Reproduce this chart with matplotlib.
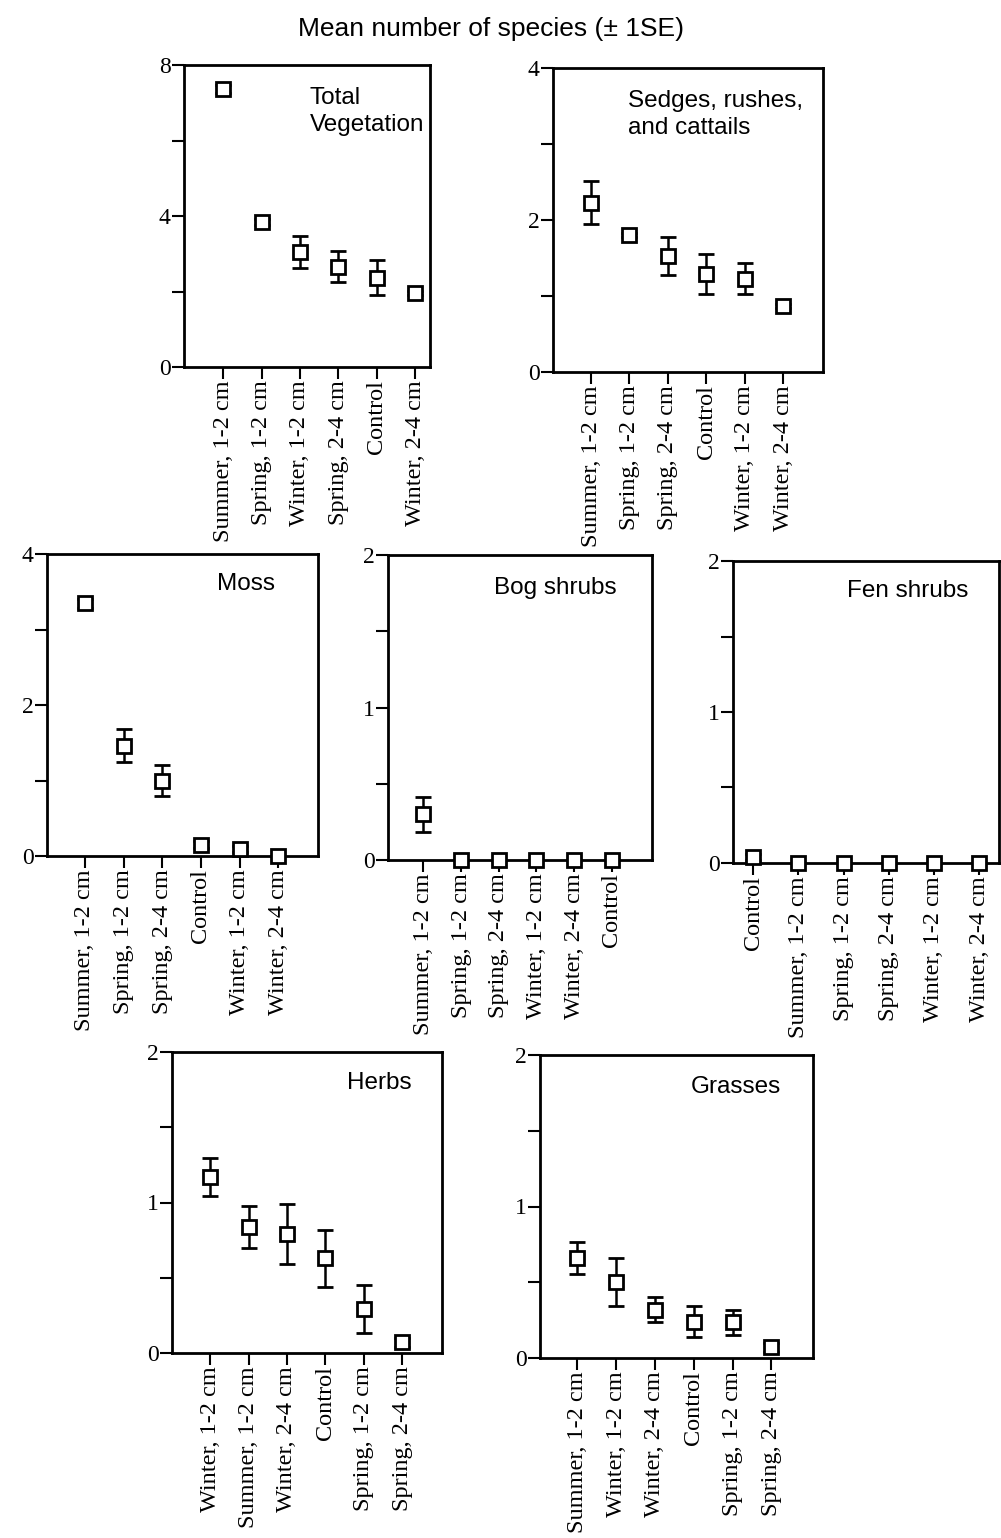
import matplotlib
matplotlib.use("Agg")
import matplotlib.pyplot as plt

W, H = 1001, 1538

# --- data ---
total_labels = ["Summer, 1-2 cm", "Spring, 1-2 cm", "Winter, 1-2 cm",
                "Spring, 2-4 cm", "Control", "Winter, 2-4 cm"]
total_mean = [7.36, 3.83, 3.05, 2.66, 2.37, 1.97]
total_se = [0.10, 0.08, 0.42, 0.40, 0.47, 0.05]

sedge_labels = ["Summer, 1-2 cm", "Spring, 1-2 cm", "Spring, 2-4 cm",
                "Control", "Winter, 1-2 cm", "Winter, 2-4 cm"]
sedge_mean = [2.23, 1.80, 1.52, 1.29, 1.23, 0.87]
sedge_se = [0.28, 0.03, 0.25, 0.26, 0.21, 0.03]

moss_labels = ["Summer, 1-2 cm", "Spring, 1-2 cm", "Spring, 2-4 cm",
               "Control", "Winter, 1-2 cm", "Winter, 2-4 cm"]
moss_mean = [3.35, 1.46, 1.00, 0.15, 0.09, 0.0]
moss_se = [0.06, 0.22, 0.20, 0.05, 0.04, 0.0]

bog_labels = ["Summer, 1-2 cm", "Spring, 1-2 cm", "Spring, 2-4 cm",
              "Winter, 1-2 cm", "Winter, 2-4 cm", "Control"]
bog_mean = [0.30, 0.0, 0.0, 0.0, 0.0, 0.0]
bog_se = [0.115, 0.0, 0.0, 0.0, 0.0, 0.0]

fen_labels = ["Control", "Summer, 1-2 cm", "Spring, 1-2 cm",
              "Spring, 2-4 cm", "Winter, 1-2 cm", "Winter, 2-4 cm"]
fen_mean = [0.04, 0.0, 0.0, 0.0, 0.0, 0.0]
fen_se = [0.02, 0.0, 0.0, 0.0, 0.0, 0.0]

herb_labels = ["Winter, 1-2 cm", "Summer, 1-2 cm", "Winter, 2-4 cm",
               "Control", "Spring, 1-2 cm", "Spring, 2-4 cm"]
herb_mean = [1.17, 0.84, 0.79, 0.63, 0.29, 0.07]
herb_se = [0.125, 0.14, 0.20, 0.19, 0.16, 0.03]

grass_labels = ["Summer, 1-2 cm", "Winter, 1-2 cm", "Winter, 2-4 cm",
                "Control", "Spring, 1-2 cm", "Spring, 2-4 cm"]
grass_mean = [0.66, 0.50, 0.32, 0.24, 0.235, 0.07]
grass_se = [0.105, 0.16, 0.085, 0.10, 0.08, 0.03]

SANS = "Liberation Sans"
SERIF = "Liberation Serif"


def fx(x):
    return x / W


def fy(y):
    return 1 - y / H


def draw_panel(fig, box, xlim, ymax, labels, mean, se, name, name_xy, va="center"):
    """box = (left, top, right, bottom) in pixels"""
    left, top, right, bottom = box
    ax = fig.add_axes([fx(left), fy(bottom), (right - left) / W, (bottom - top) / H])
    x = list(range(len(labels)))
    eb = ax.errorbar(x, mean, yerr=se, fmt="s", ms=10, mfc="white", mec="black",
                     mew=2, ecolor="black", elinewidth=1.8, capsize=6, capthick=1.8,
                     zorder=5)
    for art in [eb.lines[0]] + list(eb.lines[1]) + list(eb.lines[2]):
        art.set_clip_on(False)

    ax.set_xlim(*xlim)
    ax.set_ylim(0, ymax)
    ax.set_xticks(x)
    ax.set_xticklabels(labels, rotation=90, fontsize=17.5, family=SERIF, va="top", ha="center")
    ax.set_yticks([0, ymax / 2, ymax])
    ax.set_yticklabels(["0", f"{ymax / 2:g}", f"{ymax:g}"], fontsize=17, family=SERIF)
    ax.set_yticks([ymax / 4, 3 * ymax / 4], minor=True)
    ax.tick_params(axis="both", which="both", direction="out", length=8.5, width=1.5,
                   pad=1, color="black")
    for sp in ax.spines.values():
        sp.set_linewidth(2)

    fig.text(fx(name_xy[0]), fy(name_xy[1]), name, fontsize=17.5, family=SANS,
             ha="left", va=va, linespacing=1.3)
    return ax


fig = plt.figure(figsize=(W / 100, H / 100), dpi=100)

fig.text(fx(491), fy(29), "Mean number of species (\u00b1 1SE)", fontsize=19,
         family=SANS, ha="center", va="center")

draw_panel(fig, (184, 65, 430, 367), (-1.02, 5.39), 8, total_labels, total_mean,
           total_se, "Total\nVegetation", (310, 87), va="top")
draw_panel(fig, (553, 68, 823, 372), (-0.99, 6.04), 4, sedge_labels, sedge_mean,
           sedge_se, "Sedges, rushes,\nand cattails", (628, 90), va="top")
draw_panel(fig, (47, 554, 318, 856), (-0.98, 6.03), 4, moss_labels, moss_mean,
           moss_se, "Moss", (217, 584))
draw_panel(fig, (388, 555, 652, 860), (-0.94, 6.07), 2, bog_labels, bog_mean,
           bog_se, "Bog shrubs", (494, 588))
draw_panel(fig, (733, 561, 999, 863), (-0.45, 5.44), 2, fen_labels, fen_mean,
           fen_se, "Fen shrubs", (847, 591))
draw_panel(fig, (172, 1052, 442, 1353), (-0.99, 6.03), 2, herb_labels, herb_mean,
           herb_se, "Herbs", (347, 1083))
draw_panel(fig, (540, 1055, 813, 1358), (-0.96, 6.07), 2, grass_labels, grass_mean,
           grass_se, "Grasses", (691, 1087))

fig.savefig("out.png", dpi=100)
